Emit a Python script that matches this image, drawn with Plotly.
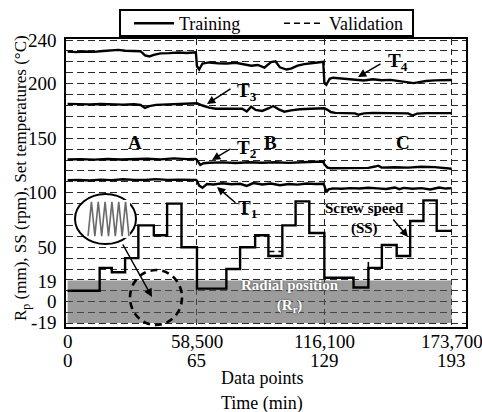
import plotly.graph_objects as go

FONT = "Liberation Serif, Times New Roman, serif"

# ---------------- data ----------------
# data-point axis ticks and matching time (min)
dp_ticks = [0, 58500, 116100, 173700]
dp_labels = ["0", "58,500", "116,100", "173,700"]
time_labels = ["0", "65", "129", "193"]
seg_bounds = [58500, 116100, 173700]
y_ticks = [240, 200, 150, 100, 50, 19, 0, -19]

# T4 set temperature (°C)
t4_x = [0, 4000, 8000, 12000, 16000, 20000, 23000, 26000, 30000, 33000, 35000, 37000, 39000, 42000, 46000, 50000, 54000, 58000,
        58500, 59500, 61000, 64000, 68000, 72000, 76000, 80000, 83000, 86000, 89000, 92000, 94000, 96000, 99000, 101000, 104000, 107000, 110000, 113000, 115600,
        116100, 117000, 118500, 120000, 123000, 126000, 130000, 134000, 138000, 142000, 146000, 150000, 154000, 156500, 159000, 162000, 166000, 170000, 173700]
t4_y = [229.5, 229.0, 229.6, 229.2, 230.0, 230.3, 231.0, 230.2, 229.6, 229.8, 226.0, 225.0, 226.5, 227.8, 228.0, 228.6, 228.2, 228.8,
        216.0, 213.0, 218.5, 219.5, 218.8, 218.5, 219.2, 218.0, 216.5, 217.2, 214.8, 219.8, 220.5, 215.0, 213.0, 213.8, 216.5, 218.0, 219.0, 219.5, 220.0,
        201.0, 199.0, 204.5, 205.5, 205.0, 204.6, 203.5, 203.0, 204.0, 203.2, 203.5, 202.5, 201.0, 200.5, 201.5, 202.5, 203.0, 203.5, 203.4]

# T3
t3_x = [0, 5000, 10000, 15000, 20000, 25000, 30000, 33000, 35000, 37000, 40000, 45000, 50000, 55000, 58000,
        58500, 61000, 64000, 67000, 72000, 76000, 79000, 81000, 83000, 85000, 88000, 91000, 93000, 95500, 98000, 101000, 105000, 110000, 115600,
        116100, 117500, 119000, 121000, 125000, 130000, 131500, 134000, 138000, 142000, 146000, 150000, 154000, 156000, 158000, 162000, 166000, 170000, 173700]
t3_y = [181.5, 181.2, 181.0, 181.4, 181.0, 180.8, 181.2, 180.5, 177.8, 179.5, 180.6, 181.0, 181.6, 182.0, 182.2,
        182.0, 180.0, 178.0, 177.0, 177.2, 176.8, 177.0, 174.5, 179.0, 176.0, 175.0, 177.5, 179.5, 176.5, 174.3, 175.5, 176.5, 177.0, 177.2,
        177.5, 176.0, 174.0, 173.2, 173.0, 172.8, 171.5, 172.8, 173.2, 173.0, 173.4, 173.0, 172.8, 170.8, 172.5, 173.0, 173.2, 173.0, 173.0]

# T2
t2_x = [0, 6000, 12000, 18000, 24000, 30000, 36000, 42000, 48000, 54000, 58000,
        58500, 60000, 61500, 64000, 70000, 76000, 82000, 88000, 94000, 100000, 106000, 112000, 115600,
        116100, 117500, 119000, 124000, 130000, 136000, 139000, 140500, 142000, 148000, 154000, 160000, 166000, 170000, 173700]
t2_y = [130.5, 130.8, 130.3, 130.9, 130.5, 130.8, 131.2, 130.6, 131.5, 130.8, 131.0,
        130.0, 125.5, 127.0, 127.5, 127.8, 127.2, 128.0, 127.5, 127.9, 127.4, 128.0, 128.3, 128.6,
        126.0, 123.0, 122.4, 122.6, 122.2, 122.8, 124.0, 124.8, 123.0, 123.4, 123.0, 123.8, 123.5, 122.5, 122.0]

# T1
t1_x = [0, 5000, 10000, 15000, 20000, 25000, 30000, 35000, 40000, 45000, 50000, 55000, 58000,
        58500, 59500, 61000, 63000, 66000, 70000, 74000, 78000, 81000, 84000, 88000, 92000, 96000, 100000, 104000, 108000, 112000, 115600,
        116100, 117000, 118000, 120000, 124000, 128000, 132000, 136000, 140000, 144000, 148000, 150000, 152000, 156000, 160000, 164000, 168000, 171000, 173700]
t1_y = [111.5, 111.8, 111.2, 112.0, 111.5, 112.4, 111.8, 111.6, 112.5, 111.8, 112.0, 111.6, 111.8,
        111.0, 106.5, 104.5, 108.0, 107.5, 108.6, 107.8, 108.2, 106.2, 108.8, 107.6, 108.4, 106.8, 108.0, 107.4, 108.5, 108.0, 108.2,
        106.5, 100.5, 103.0, 104.0, 103.6, 104.2, 103.8, 104.6, 104.0, 103.4, 104.8, 103.2, 104.4, 103.6, 104.2, 103.0, 104.8, 103.8, 104.2]

# Screw speed (rpm), step profile
ss_x = [0, 14500, 20000, 26000, 32000, 39000, 45000, 51500, 58500, 71800, 78000, 84800, 90800, 97100, 103100, 109300,
        116100, 129300, 136000, 142100, 148800, 154900, 160900, 166900, 173700]
ss_y = [10, 31, 27, 40, 70, 61, 90, 50, 12, 30, 50, 61, 42, 70, 92, 63,
        22, 13, 31, 52, 42, 74, 93, 65, 65]

# Validation screw-speed pieces (dashed)
val_x = [78000, 78000, None, 90800, 97100, None, 136000, 136000]
val_y = [30, 50, None, 46, 46, None, 31, 40]

# Radial position band (mm)
rp_x = [0, 173700]
rp_max = [19.5, 19.5]
rp_min = [-19.5, -19.5]

# zoomed radial-position oscillation in the inset
inset_rp = [-19, 19, -19, 19, -19, 19, -19, 19, -19, 19, -19, 19, -19]

# ---------------- geometry helpers (pixel -> data) ----------------
X0, Y0 = -720, -23.2
X1, Y1 = 180150, 241.0
L, R, T, B = 66, 466, 39, 327


def dx(px):
    return X0 + (px - L) / (R - L) * (X1 - X0)


def dy(py):
    return Y1 - (py - T) / (B - T) * (Y1 - Y0)


def px_x(px):
    return (px - L) / (R - L)


def px_y(py):
    return (B - py) / (B - T)


fig = go.Figure()

# radial position band
fig.add_trace(go.Scatter(x=rp_x, y=rp_min, mode="lines", line=dict(width=0), showlegend=False, hoverinfo="skip"))
fig.add_trace(go.Scatter(x=rp_x, y=rp_max, mode="lines", line=dict(width=0), fill="tonexty",
                         fillcolor="rgba(90,90,90,0.6)", showlegend=False, hoverinfo="skip"))

line_style = dict(color="black", width=2.4)
for i, (xs, ys) in enumerate([(t4_x, t4_y), (t3_x, t3_y), (t2_x, t2_y), (t1_x, t1_y)]):
    fig.add_trace(go.Scatter(x=xs, y=ys, mode="lines", line=line_style, name="Training",
                             showlegend=(i == 0), hoverinfo="skip"))

fig.add_trace(go.Scatter(x=ss_x, y=ss_y, mode="lines", line=dict(color="black", width=2.4, shape="hv"),
                         showlegend=False, hoverinfo="skip"))
fig.add_trace(go.Scatter(x=val_x, y=val_y, mode="lines", name="Validation",
                         line=dict(color="black", width=1.6, dash="6px,4px"), hoverinfo="skip"))

# grid-only overlay axes
fig.add_trace(go.Scatter(x=[dp_ticks[0]], y=[y_ticks[0]], xaxis="x2", yaxis="y2", mode="markers",
                         marker=dict(opacity=0), showlegend=False, hoverinfo="skip"))

# inset zigzag
fig.add_trace(go.Scatter(x=list(range(len(inset_rp))), y=inset_rp, xaxis="x3", yaxis="y3", mode="lines",
                         line=dict(color="#6a6a6a", width=1.6), showlegend=False, hoverinfo="skip"))

tickfont = dict(family=FONT, size=19, color="black")

fig.update_layout(
    width=482, height=412,
    margin=dict(l=L, r=482 - R, t=T, b=412 - B, autoexpand=False),
    paper_bgcolor="white", plot_bgcolor="white",
    font=dict(family=FONT, color="black"),
    xaxis=dict(range=[X0, X1], tickvals=dp_ticks, showticklabels=False, showgrid=False, zeroline=False,
               showline=True, mirror=True, linecolor="black", linewidth=1.6, ticks=""),
    yaxis=dict(range=[Y0, Y1], tickvals=y_ticks, ticktext=[str(v) for v in y_ticks], showgrid=False,
               zeroline=False, showline=True, mirror=True, linecolor="black", linewidth=1.6, ticks="",
               tickfont=tickfont, ticklabelstandoff=4),
    xaxis2=dict(range=[X0, X1], overlaying="x", tickvals=seg_bounds, showticklabels=False, showgrid=True,
                griddash="6px,4px", gridcolor="#222", gridwidth=1.2, zeroline=False, showline=False, ticks=""),
    yaxis2=dict(range=[Y0, Y1], overlaying="y", tick0=0, dtick=10, showticklabels=False, showgrid=True,
                griddash="7px,4px", gridcolor="#2a2a2a", gridwidth=1.1, zeroline=False, showline=False, ticks=""),
    xaxis3=dict(domain=[0.0525, 0.16], anchor="y3", visible=False, range=[-0.3, len(inset_rp) - 0.7]),
    yaxis3=dict(domain=[0.309, 0.441], anchor="x3", visible=False, range=[-21, 21]),
    legend=dict(orientation="h", x=px_x(129), y=px_y(5), xanchor="left", yanchor="top",
                borderwidth=0, bgcolor="rgba(0,0,0,0)", traceorder="normal",
                font=dict(family=FONT, size=18, color="black"), itemwidth=40, entrywidth=95),
    showlegend=True,
)

shapes = [
    # legend frame
    dict(type="rect", xref="paper", yref="paper", x0=px_x(120), x1=px_x(413), y0=px_y(36), y1=px_y(10),
         line=dict(color="black", width=2)),
    # inset circle (white background)
    dict(type="circle", xref="x", yref="y", x0=dx(75), x1=dx(136), y0=dy(194), y1=dy(244),
         line=dict(color="black", width=2), fillcolor="white", layer="between"),
    # dashed circle over radial position
    dict(type="circle", xref="x", yref="y", x0=dx(130), x1=dx(182), y0=dy(270), y1=dy(325),
         line=dict(color="black", width=2.6, dash="7px,5px"), layer="above"),
]
fig.update_layout(shapes=shapes)

ann = []
bold = dict(family=FONT, size=19, color="black")
for txt, px, py in [("A", 135, 142), ("B", 270, 142), ("C", 403, 142)]:
    ann.append(dict(x=dx(px), y=dy(py), text="<b>%s</b>" % txt, showarrow=False, font=bold))
for txt, px, py in [("T<sub>4</sub>", 398, 62), ("T<sub>3</sub>", 247, 92), ("T<sub>2</sub>", 247, 149), ("T<sub>1</sub>", 247, 209)]:
    ann.append(dict(x=dx(px), y=dy(py), text="<b>%s</b>" % txt, showarrow=False, font=bold))
# arrows (tail px,py -> tip px,py)
for (tx, ty, hx, hy) in [(382, 63, 358, 77), (232, 88, 207, 104), (232, 148, 212, 160), (237, 204, 217, 187),
                         (392, 218, 408, 237), (122, 243, 152, 297)]:
    ann.append(dict(x=dx(hx), y=dy(hy), ax=tx - hx, ay=ty - hy, text="", showarrow=True,
                    arrowhead=2, arrowsize=1.1, arrowwidth=1.5, arrowcolor="black"))
ann.append(dict(x=dx(364), y=dy(218), text="<b>Screw speed</b><br><b>(SS)</b>", showarrow=False,
                font=dict(family=FONT, size=15, color="black")))
ann.append(dict(x=dx(290), y=dy(296), text="<b>Radial position</b><br><b>(R<sub>r</sub>)</b>", showarrow=False,
                font=dict(family=FONT, size=15, color="white", shadow="0px 0px 2px #333")))
# x labels: data points row and time row
for v, d, t in zip(dp_ticks, dp_labels, time_labels):
    ann.append(dict(x=v, y=0, xref="x", yref="paper", yshift=-(341 - B), xanchor="center", yanchor="middle",
                    text=d, showarrow=False, font=tickfont))
    ann.append(dict(x=v, y=0, xref="x", yref="paper", yshift=-(360 - B), xanchor="center", yanchor="middle",
                    text=t, showarrow=False, font=tickfont))
ann.append(dict(x=dx(262), y=0, xref="x", yref="paper", yshift=-(378 - B), xanchor="center", yanchor="middle",
                text="Data points", showarrow=False, font=dict(family=FONT, size=18, color="black")))
ann.append(dict(x=dx(262), y=0, xref="x", yref="paper", yshift=-(403 - B), xanchor="center", yanchor="middle",
                text="Time (min)", showarrow=False, font=dict(family=FONT, size=18, color="black")))
ann.append(dict(x=px_x(22), y=px_y(178), xref="paper", yref="paper", textangle=-90,
                xanchor="center", yanchor="middle",
                text="R<sub>p</sub> (mm), SS (rpm), Set temperatures (°C)", showarrow=False,
                font=dict(family=FONT, size=17, color="black")))
fig.update_layout(annotations=ann)

fig.write_html("out.html")
